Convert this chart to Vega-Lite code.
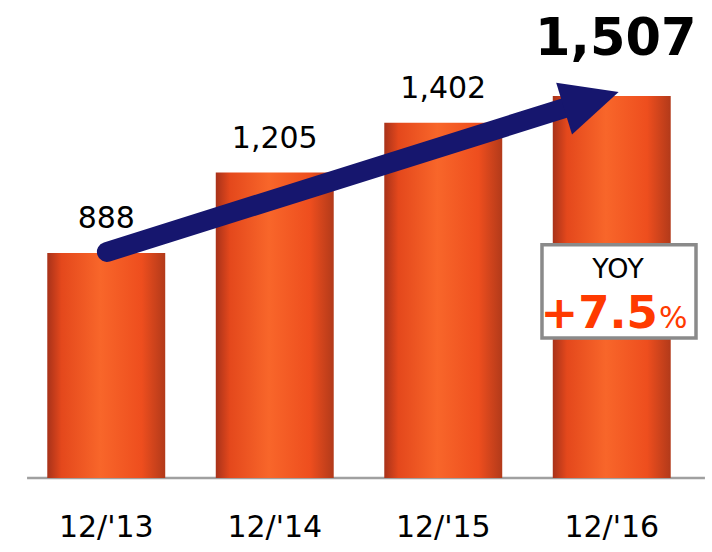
{
  "$schema": "https://vega.github.io/schema/vega-lite/v6.json",
  "width": 674,
  "height": 478,
  "autosize": {"type": "none"},
  "padding": {"left": 22, "top": 0, "right": 16, "bottom": 74},
  "config": {"view": {"stroke": null}, "font": "DejaVu Sans"},
  "datasets": {
    "bars": [
      {"period": "12/'13", "value": 888, "label": "888", "final": false},
      {"period": "12/'14", "value": 1205, "label": "1,205", "final": false},
      {"period": "12/'15", "value": 1402, "label": "1,402", "final": false},
      {"period": "12/'16", "value": 1507, "label": "1,507", "final": true}
    ],
    "arrow": [
      {"x": 1.004, "y": 892},
      {"x": 3.74, "y": 1464}
    ],
    "head": [
      {"x": 3.879, "y": 1490}
    ],
    "one": [{}]
  },
  "resolve": {"scale": {"x": "independent"}},
  "layer": [
    {
      "data": {"name": "one"},
      "mark": {"type": "rule", "color": "#A0A0A0", "strokeWidth": 2.5},
      "encoding": {
        "x": {"datum": 0.53, "type": "quantitative", "scale": {"domain": [0.5, 4.5], "nice": false, "zero": false}, "axis": null},
        "x2": {"datum": 4.553},
        "y": {"datum": 0, "type": "quantitative", "scale": {"domain": [0, 1886], "nice": false}, "axis": null}
      }
    },
    {
      "data": {"name": "bars"},
      "encoding": {
        "x": {
          "field": "period",
          "type": "nominal",
          "sort": null,
          "scale": {"paddingInner": 0.3, "paddingOuter": 0.15},
          "axis": {
            "title": null,
            "domain": false,
            "ticks": false,
            "labelAngle": 0,
            "labelFontSize": 30,
            "labelColor": "#000000",
            "labelBaseline": "alphabetic",
            "labelPadding": 58,
            "labelFont": "DejaVu Sans"
          }
        },
        "y": {
          "field": "value",
          "type": "quantitative",
          "scale": {"domain": [0, 1886], "nice": false},
          "axis": null
        }
      },
      "layer": [
        {
          "mark": {
            "type": "bar",
            "fill": {
              "gradient": "linear",
              "x1": 0, "x2": 1, "y1": 0, "y2": 0,
              "stops": [
                {"offset": 0, "color": "#A8321A"},
                {"offset": 0.12, "color": "#E4481C"},
                {"offset": 0.45, "color": "#F8662A"},
                {"offset": 0.8, "color": "#EE4E1E"},
                {"offset": 1, "color": "#B23A1A"}
              ]
            }
          }
        },
        {
          "transform": [{"filter": "!datum.final"}],
          "mark": {"type": "text", "baseline": "alphabetic", "dy": -25, "fontSize": 30, "color": "#000000"},
          "encoding": {"text": {"field": "label"}}
        },
        {
          "transform": [{"filter": "datum.final"}],
          "mark": {"type": "text", "baseline": "alphabetic", "dy": -41, "dx": 4, "fontSize": 51, "fontWeight": "bold", "color": "#000000"},
          "encoding": {"text": {"field": "label"}}
        }
      ]
    },
    {
      "layer": [
        {
          "data": {"name": "arrow"},
          "mark": {"type": "line", "color": "#16166E", "strokeWidth": 20, "strokeCap": "round"},
          "encoding": {
            "x": {"field": "x", "type": "quantitative", "scale": {"domain": [0.5, 4.5], "nice": false, "zero": false}, "axis": null},
            "y": {"field": "y", "type": "quantitative", "scale": {"domain": [0, 1886], "nice": false}, "axis": null}
          }
        },
        {
          "data": {"name": "head"},
          "mark": {"type": "point", "shape": "M 1,0 L -1,-0.95 L -1,0.95 Z", "filled": true, "size": 3250, "angle": -17, "color": "#16166E", "opacity": 1, "strokeWidth": 0},
          "encoding": {
            "x": {"field": "x", "type": "quantitative", "scale": {"domain": [0.5, 4.5], "nice": false, "zero": false}, "axis": null},
            "y": {"field": "y", "type": "quantitative", "scale": {"domain": [0, 1886], "nice": false}, "axis": null}
          }
        },
        {
          "data": {"name": "one"},
          "mark": {"type": "rect", "fill": "#FFFFFF", "stroke": "#8A8A8A", "strokeWidth": 3.5},
          "encoding": {
            "x": {"datum": 3.586, "type": "quantitative", "scale": {"domain": [0.5, 4.5], "nice": false, "zero": false}, "axis": null},
            "x2": {"datum": 4.5},
            "y": {"datum": 552, "type": "quantitative", "scale": {"domain": [0, 1886], "nice": false}, "axis": null},
            "y2": {"datum": 920}
          }
        },
        {
          "data": {"name": "one"},
          "mark": {"type": "text", "text": "YOY", "fontSize": 27, "baseline": "alphabetic", "align": "center", "color": "#000000"},
          "encoding": {
            "x": {"datum": 4.037, "type": "quantitative", "scale": {"domain": [0.5, 4.5], "nice": false, "zero": false}, "axis": null},
            "y": {"datum": 789, "type": "quantitative", "scale": {"domain": [0, 1886], "nice": false}, "axis": null}
          }
        },
        {
          "data": {"name": "one"},
          "mark": {"type": "text", "text": "+7.5", "fontSize": 45, "fontWeight": "bold", "baseline": "alphabetic", "align": "right", "color": "#FF3A00"},
          "encoding": {
            "x": {"datum": 4.274, "type": "quantitative", "scale": {"domain": [0.5, 4.5], "nice": false, "zero": false}, "axis": null},
            "y": {"datum": 592, "type": "quantitative", "scale": {"domain": [0, 1886], "nice": false}, "axis": null}
          }
        },
        {
          "data": {"name": "one"},
          "mark": {"type": "text", "text": "%", "fontSize": 30, "baseline": "alphabetic", "align": "left", "dx": 1, "color": "#FF3A00"},
          "encoding": {
            "x": {"datum": 4.274, "type": "quantitative", "scale": {"domain": [0.5, 4.5], "nice": false, "zero": false}, "axis": null},
            "y": {"datum": 592, "type": "quantitative", "scale": {"domain": [0, 1886], "nice": false}, "axis": null}
          }
        }
      ]
    }
  ]
}
